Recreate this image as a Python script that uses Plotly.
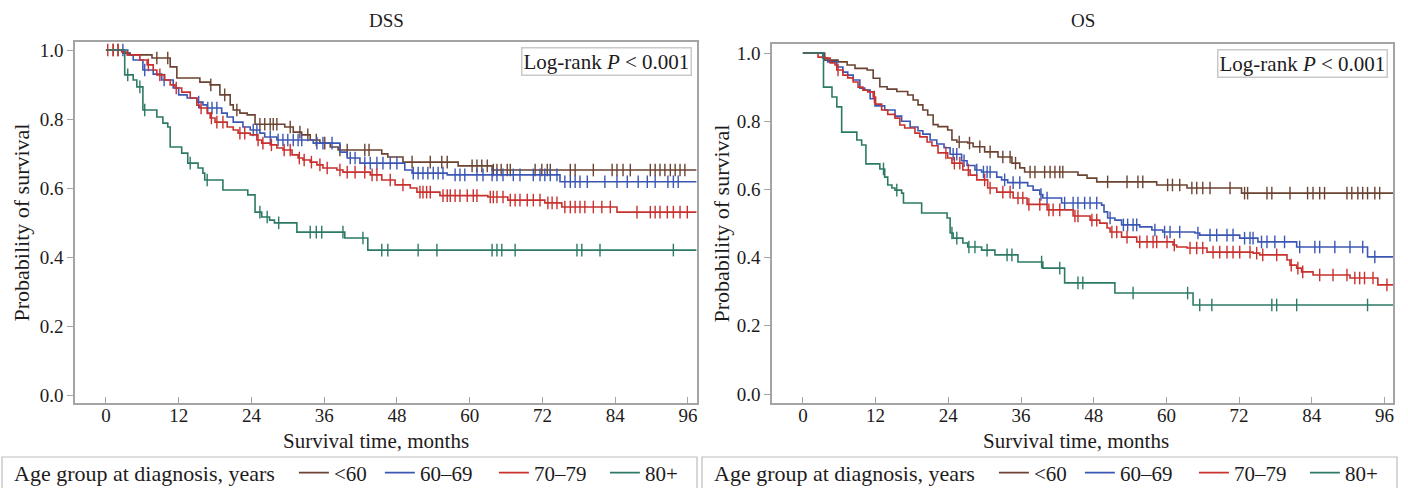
import plotly.graph_objects as go

W, H = 1408, 488
FONT = "Liberation Serif, Times New Roman, serif"
TXT = "#1e1b1c"
FRAME = "#a4a4a4"

GROUPS = ["<60", "60–69", "70–79", "80+"]
COLORS = ["#6b4332", "#3b57b3", "#c8312e", "#2c7a66"]
LEGEND_ENTRY_W = [41, 69, 66, 40]
XTICKS = [0, 12, 24, 36, 48, 60, 72, 84, 96]
YTICKS = [0.0, 0.2, 0.4, 0.6, 0.8, 1.0]
END_TIME = 97.4

# ---------------- DSS ----------------
dss_lt60_t = [2.8, 4.0, 7.6, 10.6, 11.7, 15.5, 17.2, 18.8, 20.5, 21.0, 22.1, 23.3, 24.6, 29.5, 30.9, 32.3,
              33.7, 35.3, 37.0, 38.3, 45.5, 46.5, 49.0, 58.1, 63.7]
dss_lt60_s = [0.991, 0.986, 0.977, 0.951, 0.919, 0.907, 0.899, 0.870, 0.841, 0.826, 0.817, 0.812, 0.785, 0.777,
              0.762, 0.754, 0.739, 0.730, 0.719, 0.710, 0.699, 0.690, 0.675, 0.664, 0.652]
dss_lt60_c = [1.2, 2.0, 8.4, 10.2, 17.3, 19.6, 21.6, 25.4, 26.2, 27.1, 27.6, 28.2, 30.4, 32.0, 33.3, 34.7, 36.1,
              38.6, 39.8, 42.7, 43.4, 50.5, 53.5, 55.4, 56.3, 60.4, 61.2, 62.0, 62.9, 63.9, 64.5, 65.2, 66.2,
              66.7, 70.8, 71.9, 72.8, 73.3, 76.6, 77.4, 80.4, 83.5, 84.3, 85.3, 86.5, 89.8, 90.6, 91.4, 92.2,
              93.1, 93.9, 94.7, 95.5]

dss_6069_t = [3.6, 4.5, 6.1, 7.8, 9.2, 11.1, 12.0, 13.4, 15.0, 16.0, 16.7, 19.1, 20.0, 21.0, 22.6, 23.8, 25.4,
              26.2, 28.2, 34.2, 38.6, 39.8, 41.9, 49.3, 50.5, 56.3, 74.9]
dss_6069_s = [0.986, 0.971, 0.942, 0.930, 0.913, 0.890, 0.870, 0.861, 0.849, 0.841, 0.832, 0.817, 0.806, 0.791,
              0.777, 0.768, 0.759, 0.748, 0.739, 0.730, 0.704, 0.687, 0.672, 0.652, 0.643, 0.638, 0.618]
dss_6069_c = [2.8, 6.4, 9.6, 15.3, 16.8, 17.5, 18.3, 24.3, 24.9, 27.1, 28.4, 29.2, 30.0, 30.9, 31.7, 32.3, 34.8,
              35.8, 37.3, 40.3, 41.1, 42.7, 43.6, 44.7, 45.7, 46.9, 48.0, 50.7, 51.5, 52.3, 53.1, 54.0, 54.8,
              55.6, 57.6, 58.4, 59.2, 61.2, 62.2, 63.7, 64.5, 65.5, 67.2, 68.3, 70.5, 71.6, 72.4, 73.3, 74.4,
              75.7, 76.6, 77.4, 78.2, 79.4, 82.3, 84.3, 86.0, 87.8, 89.3, 90.6, 92.7, 93.6, 94.4]

dss_7079_t = [2.6, 3.5, 5.6, 6.8, 7.8, 8.4, 9.7, 10.6, 11.4, 12.5, 13.9, 15.0, 15.5, 16.7, 17.2, 18.0, 20.0,
              21.0, 21.8, 23.8, 24.9, 25.7, 27.1, 28.2, 29.2, 30.7, 31.7, 32.5, 33.7, 34.8, 35.8, 38.1, 39.1,
              43.6, 45.5, 47.7, 50.2, 51.3, 55.1, 63.0, 66.3, 72.4, 75.2, 84.3]
dss_7079_s = [0.994, 0.986, 0.971, 0.957, 0.942, 0.928, 0.913, 0.899, 0.890, 0.878, 0.861, 0.840, 0.832, 0.817,
              0.803, 0.791, 0.777, 0.768, 0.759, 0.754, 0.739, 0.730, 0.725, 0.716, 0.710, 0.696, 0.687, 0.681,
              0.675, 0.667, 0.658, 0.652, 0.646, 0.638, 0.623, 0.609, 0.600, 0.588, 0.578, 0.574, 0.565, 0.557,
              0.545, 0.530]
dss_7079_c = [0.3, 1.2, 2.0, 7.0, 8.9, 11.6, 15.7, 17.4, 18.3, 19.3, 22.1, 22.9, 25.1, 25.9, 27.3, 29.4, 30.4,
              31.9, 32.7, 33.9, 35.3, 36.5, 38.6, 39.8, 41.1, 42.7, 43.9, 44.7, 46.9, 49.0, 51.8, 52.3, 52.9,
              53.5, 55.6, 56.3, 56.8, 57.6, 58.4, 59.6, 60.6, 61.2, 63.4, 63.9, 64.5, 65.5, 66.7, 67.5, 68.3,
              69.5, 70.5, 71.6, 72.9, 73.6, 74.4, 75.7, 76.6, 77.4, 78.2, 79.0, 80.4, 81.8, 83.2, 87.6, 89.8,
              90.6, 91.4, 92.6, 93.6, 94.7, 95.9]

dss_80_t = [3.1, 4.5, 5.1, 6.1, 8.4, 9.4, 10.2, 10.6, 12.5, 13.5, 15.2, 16.0, 16.3, 19.3, 23.4, 24.6, 25.7,
            27.0, 27.8, 31.5, 39.4, 43.2]
dss_80_s = [0.928, 0.913, 0.893, 0.826, 0.806, 0.788, 0.777, 0.719, 0.701, 0.672, 0.658, 0.643, 0.623, 0.594,
            0.580, 0.530, 0.516, 0.507, 0.499, 0.472, 0.455, 0.420]
dss_80_c = [3.6, 5.6, 6.4, 13.9, 16.7, 25.4, 26.6, 28.5, 33.7, 34.7, 35.6, 39.1, 42.4, 45.5, 46.5, 51.5, 54.6,
            63.7, 64.5, 65.3, 67.5, 77.7, 78.5, 81.5, 93.6]

# ---------------- OS ----------------
os_lt60_t = [3.6, 5.8, 7.3, 8.6, 10.6, 11.6, 12.7, 13.9, 15.5, 17.3, 18.2, 19.0, 19.8, 20.6, 21.5, 22.3, 23.9,
             24.6, 25.4, 27.2, 28.1, 30.0, 32.2, 34.5, 35.8, 36.6, 45.4, 46.9, 48.5, 58.4, 63.4, 72.4]
os_lt60_s = [0.979, 0.974, 0.965, 0.955, 0.950, 0.926, 0.901, 0.894, 0.887, 0.877, 0.862, 0.848, 0.833, 0.818,
             0.790, 0.784, 0.774, 0.745, 0.739, 0.736, 0.725, 0.710, 0.695, 0.677, 0.663, 0.651, 0.642, 0.633,
             0.622, 0.613, 0.604, 0.589]
os_lt60_c = [25.8, 27.5, 29.2, 30.9, 33.0, 34.2, 35.1, 37.5, 38.3, 39.9, 40.8, 41.6, 42.4, 42.9, 50.3, 53.5,
             55.3, 56.1, 60.2, 61.0, 62.2, 64.2, 65.0, 66.0, 67.2, 70.5, 72.9, 73.4, 76.6, 77.4, 80.4, 83.3,
             84.2, 85.3, 86.1, 89.8, 90.6, 91.6, 92.4, 93.2, 94.4, 95.2]

os_6069_t = [3.3, 4.1, 5.6, 6.6, 7.4, 8.3, 9.4, 10.2, 11.1, 11.9, 13.5, 15.2, 16.3, 17.7, 19.0, 19.8, 21.0,
             22.1, 23.3, 24.3, 26.2, 27.1, 28.4, 29.5, 32.0, 32.8, 33.8, 37.1, 38.0, 39.1, 39.6, 42.7, 49.3,
             49.7, 50.3, 51.5, 52.6, 55.6, 57.6, 59.4, 64.7, 65.5, 72.1, 75.1, 81.5, 93.2]
os_6069_s = [0.985, 0.974, 0.959, 0.944, 0.935, 0.921, 0.897, 0.891, 0.866, 0.845, 0.833, 0.815, 0.800, 0.783,
             0.772, 0.762, 0.745, 0.733, 0.722, 0.703, 0.684, 0.670, 0.657, 0.651, 0.636, 0.628, 0.620, 0.610,
             0.598, 0.585, 0.575, 0.560, 0.554, 0.534, 0.516, 0.510, 0.496, 0.490, 0.481, 0.475, 0.472, 0.466,
             0.457, 0.446, 0.431, 0.402]
os_6069_c = [24.8, 25.4, 26.6, 28.7, 29.8, 30.4, 30.9, 33.3, 34.7, 35.8, 39.3, 40.3, 43.2, 44.6, 45.4, 46.5,
             47.4, 48.5, 50.7, 52.9, 53.6, 54.5, 55.1, 58.1, 59.7, 60.6, 62.2, 65.2, 67.2, 68.3, 70.0, 71.0,
             72.9, 73.8, 74.3, 75.7, 76.6, 77.9, 79.5, 82.0, 84.5, 85.3, 87.8, 90.3, 92.4, 94.4]

os_7079_t = [2.5, 3.6, 4.5, 5.3, 5.6, 6.6, 7.4, 8.3, 9.1, 9.9, 10.7, 11.6, 12.0, 13.0, 14.0, 15.2, 16.0, 16.8,
             18.5, 19.3, 20.5, 21.3, 22.3, 23.9, 24.6, 26.4, 27.6, 28.7, 30.5, 32.0, 34.7, 37.0, 40.3, 44.6,
             47.4, 49.0, 50.2, 50.7, 52.6, 55.1, 61.1, 61.7, 63.4, 66.7, 74.3, 75.4, 79.9, 80.4, 81.5, 82.3,
             84.2, 90.3, 94.9]
os_7079_s = [0.988, 0.985, 0.971, 0.965, 0.950, 0.935, 0.927, 0.915, 0.900, 0.891, 0.886, 0.871, 0.850, 0.833,
             0.820, 0.809, 0.789, 0.780, 0.765, 0.754, 0.739, 0.728, 0.707, 0.692, 0.677, 0.657, 0.642, 0.628,
             0.604, 0.592, 0.575, 0.556, 0.540, 0.522, 0.510, 0.501, 0.487, 0.475, 0.460, 0.446, 0.437, 0.431,
             0.428, 0.416, 0.413, 0.408, 0.393, 0.378, 0.369, 0.358, 0.349, 0.340, 0.320]
os_7079_c = [5.8, 11.8, 23.6, 25.0, 25.9, 27.3, 30.0, 30.9, 33.0, 34.2, 35.5, 36.3, 37.3, 39.1, 40.6, 41.3,
             42.4, 44.9, 45.4, 47.7, 48.5, 51.0, 51.8, 53.5, 55.6, 56.8, 57.8, 58.4, 60.1, 61.3, 63.9, 65.0,
             66.0, 67.7, 68.8, 70.0, 71.0, 72.1, 73.8, 74.9, 75.9, 78.2, 80.6, 81.7, 82.5, 85.3, 87.5, 89.8,
             91.1, 91.9, 92.7, 94.1, 96.4]

os_80_t = [3.4, 4.8, 5.6, 6.4, 8.9, 9.7, 10.4, 12.7, 13.5, 14.0, 14.7, 15.2, 16.3, 16.6, 19.6, 23.8, 24.3,
           24.8, 26.4, 27.2, 29.5, 31.7, 35.5, 39.6, 43.2, 51.5, 64.4]
os_80_s = [0.900, 0.871, 0.842, 0.768, 0.745, 0.730, 0.675, 0.660, 0.636, 0.613, 0.604, 0.598, 0.589, 0.560,
           0.531, 0.516, 0.472, 0.457, 0.443, 0.431, 0.422, 0.408, 0.387, 0.369, 0.326, 0.296, 0.261]
os_80_c = [13.3, 15.5, 24.6, 25.4, 27.4, 28.4, 30.4, 33.7, 34.5, 39.4, 42.4, 45.4, 46.2, 54.5, 63.5, 65.5,
           67.5, 77.4, 78.2, 81.5, 93.2]

PANELS = [
    ("DSS", [(dss_lt60_t, dss_lt60_s, dss_lt60_c), (dss_6069_t, dss_6069_s, dss_6069_c),
             (dss_7079_t, dss_7079_s, dss_7079_c), (dss_80_t, dss_80_s, dss_80_c)]),
    ("OS", [(os_lt60_t, os_lt60_s, os_lt60_c), (os_6069_t, os_6069_s, os_6069_c),
            (os_7079_t, os_7079_s, os_7079_c), (os_80_t, os_80_s, os_80_c)]),
]


def surv_at(times, surv, c):
    val = 1.0
    for t, s in zip(times, surv):
        if t <= c:
            val = s
        else:
            break
    return val


def px(v):
    return v / W


def py(v):
    return 1 - v / H


# panel geometry (pixels)
GEOM = [
    dict(l=75, r=697, t=42, b=403, yr=[-0.0232, 1.0232], xr=[-5.1, 97.5]),
    dict(l=772, r=1393, t=44, b=403, yr=[-0.0264, 1.0264], xr=[-5.1, 97.4]),
]

fig = go.Figure()
for pi, (name, groups) in enumerate(PANELS):
    xa = "x" if pi == 0 else "x2"
    ya = "y" if pi == 0 else "y2"
    lg = "legend" if pi == 0 else "legend2"
    for gi, (t, s, c) in enumerate(groups):
        xs = [0] + list(t) + [END_TIME]
        ys = [1.0] + list(s) + [s[-1]]
        fig.add_trace(go.Scatter(
            x=xs, y=ys, mode="lines", line=dict(color=COLORS[gi], width=1.6, shape="hv"),
            name=GROUPS[gi], xaxis=xa, yaxis=ya, legend=lg, legendwidth=LEGEND_ENTRY_W[gi],
            showlegend=True, hoverinfo="skip"))
        fig.add_trace(go.Scatter(
            x=c, y=[surv_at(t, s, v) for v in c], mode="markers",
            marker=dict(symbol="line-ns-open", size=9, color=COLORS[gi],
                        line=dict(color=COLORS[gi], width=1.4)),
            xaxis=xa, yaxis=ya, showlegend=False, hoverinfo="skip"))

axis_common = dict(showgrid=False, zeroline=False, showline=True, linecolor=FRAME, linewidth=1.5,
                   mirror=True, tickcolor=FRAME, tickwidth=1.2,
                   tickfont=dict(family=FONT, size=19, color=TXT))

for pi, g in enumerate(GEOM):
    sx = "" if pi == 0 else "2"
    fig.update_layout(**{
        "xaxis" + sx: dict(axis_common, domain=[px(g["l"]), px(g["r"])], range=g["xr"],
                           tickvals=XTICKS, ticks="inside", ticklen=6, ticklabelstandoff=-6,
                           anchor="y" + sx),
        "yaxis" + sx: dict(axis_common, domain=[py(g["b"]), py(g["t"])], range=g["yr"],
                           tickvals=YTICKS, tickformat=".1f", ticks="outside", ticklen=6,
                           anchor="x" + sx),
    })

annotations = []
shapes = []
for pi, (name, _) in enumerate(PANELS):
    g = GEOM[pi]
    off = 0 if pi == 0 else 700
    annotations.append(dict(text=name, x=px((g["l"] + g["r"]) / 2), y=py(20), xref="paper", yref="paper",
                            xanchor="center", yanchor="middle",
                            showarrow=False, font=dict(family=FONT, size=19, color=TXT)))
    annotations.append(dict(text="Log-rank <i>P</i> &lt; 0.001", x=px(g["r"] - 5), y=py(g["t"] + 5),
                            xref="paper", yref="paper", xanchor="right", yanchor="top", showarrow=False,
                            bordercolor="#c9c9c9", borderwidth=1.5, borderpad=1, bgcolor="white",
                            font=dict(family=FONT, size=21, color=TXT)))
    annotations.append(dict(text="Probability of survival", x=px(off + 21), y=py((g["t"] + g["b"]) / 2),
                            xref="paper", yref="paper", xanchor="center", yanchor="middle",
                            textangle=-90, showarrow=False,
                            font=dict(family=FONT, size=22, color=TXT)))
    annotations.append(dict(text="Survival time, months", x=px(off + 376), y=py(441),
                            xref="paper", yref="paper", xanchor="center", yanchor="middle", showarrow=False,
                            font=dict(family=FONT, size=21, color=TXT)))
    shapes.append(dict(type="rect", xref="paper", yref="paper", x0=px(off + 2), x1=px(off + 697),
                       y0=-0.1, y1=py(457), line=dict(color="#bdbdbd", width=1.2)))

legend_common = dict(orientation="h", xanchor="left", yanchor="middle", y=py(473),
                     bgcolor="rgba(0,0,0,0)", borderwidth=0,
                     font=dict(family=FONT, size=21, color=TXT),
                     title=dict(text="Age group at diagnosis, years&nbsp;&nbsp;", side="left",
                                font=dict(family=FONT, size=22, color=TXT)))

fig.update_layout(
    width=W, height=H, autosize=False,
    margin=dict(l=0, r=0, t=0, b=0, autoexpand=False),
    paper_bgcolor="white", plot_bgcolor="white",
    showlegend=True,
    legend=dict(legend_common, x=px(12)),
    legend2=dict(legend_common, x=px(712)),
    annotations=annotations,
    shapes=shapes,
)

fig.write_html("out.html", config={"displayModeBar": False},
               post_script="document.body.style.margin='0';")
